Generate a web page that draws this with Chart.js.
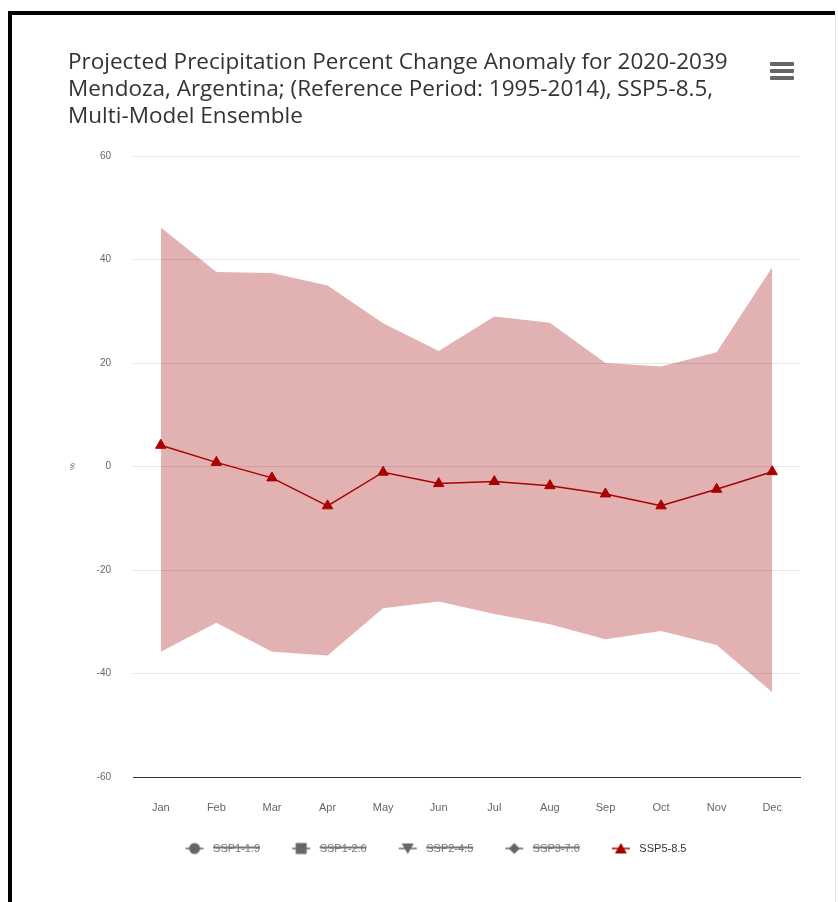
<!DOCTYPE html>
<html>
<head>
<meta charset="utf-8">
<script src="https://cdn.jsdelivr.net/npm/chart.js@4.4.1/dist/chart.umd.min.js"></script>
<style>
  html, body { margin: 0; padding: 0; background: #fff; }
  body { width: 838px; height: 902px; position: relative; overflow: hidden; }
  #frame { position: absolute; left: 8px; top: 11px; width: 827px; height: 891px;
           border-top: 4px solid #000; border-left: 4px solid #000; box-sizing: border-box; }
  #rightline { position: absolute; left: 835px; top: 15px; width: 1px; height: 887px; background: #dde3ea; }
  #wrap { position: absolute; left: 12px; top: 15px; width: 823px; height: 887px; }
  #menu { position: absolute; left: 770px; top: 62px; width: 24px; }
  #menu div { height: 3.5px; background: #666; margin-bottom: 3.5px; border-radius: 1px; }
</style>
</head>
<body>
<div id="frame"></div>
<div id="rightline"></div>
<div id="wrap"><canvas id="c"></canvas></div>
<div id="menu"><div></div><div></div><div></div></div>
<script>
const months = ["Jan","Feb","Mar","Apr","May","Jun","Jul","Aug","Sep","Oct","Nov","Dec"];
const yTicks = [-60, -40, -20, 0, 20, 40, 60];
const titleLines = [
  "Projected Precipitation Percent Change Anomaly for 2020-2039",
  "Mendoza, Argentina; (Reference Period: 1995-2014), SSP5-8.5,",
  "Multi-Model Ensemble"
];
const seriesNames = ["SSP1-1.9", "SSP1-2.6", "SSP2-4.5", "SSP3-7.0", "SSP5-8.5"];
const seriesMarkers = ["circle", "rect", "triangleDown", "rectRot", "triangle"];
const ssp585Median = [4.1, 0.8, -2.2, -7.6, -1.1, -3.3, -2.9, -3.7, -5.3, -7.6, -4.4, -1.0];
const ssp585Upper  = [46.2, 37.6, 37.4, 35.0, 27.7, 22.3, 29.0, 27.8, 20.0, 19.3, 22.1, 38.5];
const ssp585Lower  = [-35.8, -30.2, -35.8, -36.5, -27.4, -26.1, -28.5, -30.5, -33.4, -31.8, -34.5, -43.6];

const RED = "rgb(170,0,0)";
const BAND = "rgba(160,0,0,0.3)";
const GREY = "#666666";

function legendIcon(marker, color) {
  const cv = document.createElement("canvas");
  cv.width = 22; cv.height = 14;
  const g = cv.getContext("2d");
  g.strokeStyle = color; g.fillStyle = color; g.lineWidth = 1.5;
  g.beginPath(); g.moveTo(2, 7); g.lineTo(20, 7); g.stroke();
  g.beginPath();
  const cx = 11, cy = 7;
  if (marker === "circle") { g.arc(cx, cy, 5.5, 0, Math.PI * 2); }
  else if (marker === "rect") { g.rect(cx - 5.5, cy - 5.5, 11, 11); }
  else if (marker === "triangleDown") { g.moveTo(cx - 6, cy - 5); g.lineTo(cx + 6, cy - 5); g.lineTo(cx, cy + 5.5); g.closePath(); }
  else if (marker === "rectRot") { g.moveTo(cx, cy - 5.5); g.lineTo(cx + 5.5, cy); g.lineTo(cx, cy + 5.5); g.lineTo(cx - 5.5, cy); g.closePath(); }
  else { g.moveTo(cx, cy - 5.5); g.lineTo(cx + 6, cy + 5); g.lineTo(cx - 6, cy + 5); g.closePath(); }
  g.fill();
  return cv;
}

const hiddenDatasets = seriesNames.slice(0, 4).map((n, i) => ({
  label: n, data: [], hidden: true, borderColor: GREY, backgroundColor: GREY,
  pointStyle: seriesMarkers[i], legendKey: i
}));

const datasets = [
  ...hiddenDatasets,
  { label: "SSP5-8.5", data: ssp585Median, borderColor: RED, backgroundColor: RED,
    borderWidth: 1.5, pointStyle: "triangle", pointRadius: 6, pointHoverRadius: 6,
    pointBackgroundColor: RED, pointBorderColor: RED, pointBorderWidth: 1, fill: false,
    tension: 0, order: 0, legendKey: 4 },
  { label: "upper", data: ssp585Upper, borderWidth: 0, pointRadius: 0, borderColor: "transparent",
    backgroundColor: BAND, fill: "+1", order: 2, legendKey: -1 },
  { label: "lower", data: ssp585Lower, borderWidth: 0, pointRadius: 0, borderColor: "transparent",
    backgroundColor: BAND, fill: false, order: 2, legendKey: -1 }
];

new Chart(document.getElementById("c"), {
  type: "line",
  data: { labels: months, datasets },
  options: {
    responsive: true, maintainAspectRatio: false, animation: false,
    layout: { padding: { left: 56, right: 35, top: 28, bottom: 38 } },
    plugins: {
      tooltip: { enabled: false },
      title: {
        display: true, text: titleLines, align: "start", color: "#333333",
        font: { family: "'Open Sans'", size: 22.5, lineHeight: 1.2, weight: "normal" },
        padding: { top: 6, bottom: 26 }
      },
      legend: {
        position: "bottom", align: "center",
        labels: {
          usePointStyle: true, pointStyleWidth: 26, padding: 28,
          font: { family: "'Liberation Sans'", size: 11 },
          filter: (item) => item.datasetIndex < 5,
          generateLabels: (chart) => chart.data.datasets.map((ds, i) => {
            const hidden = !chart.isDatasetVisible(i);
            return {
              text: ds.label, datasetIndex: i, hidden,
              fontColor: hidden ? "#777777" : "#333333",
              pointStyle: legendIcon(seriesMarkers[Math.max(0, ds.legendKey)], hidden ? GREY : RED),
              fillStyle: "transparent", strokeStyle: "transparent", lineWidth: 0
            };
          })
        }
      }
    },
    scales: {
      x: {
        offset: true,
        grid: { display: false, drawTicks: false },
        border: { display: true, color: "#333333", width: 1, z: 1 },
        ticks: { color: "#666666", padding: 24, font: { family: "'Liberation Sans'", size: 11 } },
        afterFit: (s) => { s.height = 38; }
      },
      y: {
        min: -60, max: 60,
        afterBuildTicks: (s) => { s.ticks = yTicks.map(v => ({ value: v })); },
        grid: { color: "#e6e6e6", drawTicks: false, lineWidth: 1 },
        border: { display: false },
        ticks: { color: "#666666", padding: 22, font: { family: "'Liberation Sans'", size: 10 } },
        title: { display: true, text: "%", color: "#666666", font: { family: "'Liberation Sans'", size: 8 }, padding: { top: 0, bottom: 12 } },
        afterFit: (s) => { s.width = 65; }
      }
    }
  }
});
</script>
</body>
</html>
